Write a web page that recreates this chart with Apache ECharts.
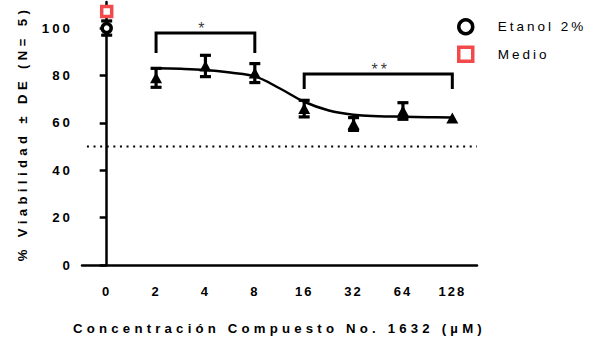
<!DOCTYPE html>
<html><head><meta charset="utf-8">
<script src="https://cdn.jsdelivr.net/npm/echarts@6/dist/echarts.min.js"></script>
<style>
html,body{margin:0;padding:0;background:#fff;}
#c{width:599px;height:345px;}
#c svg text[style*="13.2px"]{letter-spacing:4.2px;}
#c svg text[style*="13.1px"]{letter-spacing:4.4px;}
#c svg text[style*="13px"]{letter-spacing:2px;}
#c svg text[style*="13.3px"]{letter-spacing:3px;}
#c svg text[style*="13.5px"]{letter-spacing:3px;}
#c svg text[style*="16px"]{letter-spacing:3px;}
</style></head>
<body><div id="c"></div>
<script>
// Data
const categories = ['0', '2', '4', '8', '16', '32', '64', '128'];
const compMean = [null, 79, 84, 81, 66, 59.5, 65, 62];
const compSD = [null, 4, 4.5, 4, 3.5, 2.7, 3.5, 0];
const etanolMean = [100];
const etanolSD = [3];
const medioMean = [107];
const yTicks = [0, 20, 40, 60, 80, 100];
// fitted curve (x in category-index units)
const curveX = [1, 1.5, 2, 2.5, 3, 3.5, 4, 4.5, 5, 5.5, 6, 6.5, 7];
const curveY = [83.0, 82.8, 82.3, 81.2, 79.6, 74.6, 68.9, 65.2, 63.4, 62.8, 62.6, 62.4, 62.3];
const bracket1X = [1, 1, 3, 3];
const bracket1Y = [89.5, 97.9, 97.9, 89.5];
const bracket2X = [4, 4, 7, 7];
const bracket2Y = [74.3, 80.6, 80.6, 74.3];
const sigLabels = ['*', '**'];
const sigX = [1.95, 5.55];
const sigY = [97.9, 80.6];
const refLineX = [-0.4, 7.5];
const refLineY = 50;

const FONT = '"Liberation Sans", Arial, sans-serif';
const RED = '#F24A4A';

const chart = echarts.init(document.getElementById('c'), null, {renderer: 'svg'});

function errRender(params, api) {
  const x = api.value(0), m = api.value(1), s = api.value(2);
  if (!s) return null;
  const top = api.coord([x, m + s]);
  const bot = api.coord([x, m - s]);
  const hw = 5.5;
  const st = {stroke: '#000', lineWidth: 3.2};
  return {type: 'group', children: [
    {type: 'line', shape: {x1: top[0], y1: top[1], x2: bot[0], y2: bot[1]}, style: st},
    {type: 'line', shape: {x1: top[0] - hw, y1: top[1], x2: top[0] + hw, y2: top[1]}, style: st},
    {type: 'line', shape: {x1: bot[0] - hw, y1: bot[1], x2: bot[0] + hw, y2: bot[1]}, style: st}
  ]};
}

const compErr = [];
compMean.forEach((m, i) => { if (m != null) compErr.push([i, m, compSD[i]]); });
const compPts = [];
compMean.forEach((m, i) => { if (m != null) compPts.push([i, m]); });

chart.setOption({
  animation: false,
  backgroundColor: '#fff',
  grid: {left: 82, right: 122, top: 2, bottom: 80, containLabel: false},
  legend: {
    orient: 'vertical', left: 452, top: 13, itemGap: 10, itemWidth: 14, itemHeight: 14,
    textStyle: {fontFamily: FONT, fontSize: 13.5, color: '#000', padding: [0, 0, 0, 20]},
    data: [
      {name: 'Etanol 2%', icon: 'circle', itemStyle: {color: '#fff', borderColor: '#000', borderWidth: 3.5, opacity: 1}},
      {name: 'Medio', icon: 'rect', itemStyle: {color: '#fff', borderColor: RED, borderWidth: 3.5, opacity: 1}}
    ]
  },
  xAxis: [{
    type: 'category', data: categories, boundaryGap: true,
    axisLine: {lineStyle: {color: '#000', width: 2.5}},
    axisTick: {alignWithLabel: true, length: 6, lineStyle: {color: '#000', width: 2.5}},
    axisLabel: {fontFamily: FONT, fontSize: 13, fontWeight: 'bold', color: '#000', margin: 20, interval: 0},
    name: 'Concentración Compuesto No. 1632 (µM)', nameLocation: 'middle', nameGap: 57,
    nameTextStyle: {fontFamily: FONT, fontSize: 13.2, fontWeight: 'bold', color: '#000'}
  }, {
    type: 'value', min: -0.5, max: 7.5, show: false
  }],
  yAxis: {
    type: 'value', min: 0, max: 111,
    axisLine: {show: true, lineStyle: {color: '#000', width: 2.5}},
    axisTick: {show: true, length: 7, customValues: yTicks, lineStyle: {color: '#000', width: 2.5}},
    axisLabel: {fontFamily: FONT, fontSize: 13.3, fontWeight: 'bold', color: '#000', margin: 9, customValues: yTicks},
    splitLine: {show: false},
    name: '% Viabilidad ± DE (N= 5)', nameLocation: 'middle', nameGap: 53, nameRotate: 90,
    nameTextStyle: {fontFamily: FONT, fontSize: 13.1, fontWeight: 'bold', color: '#000'}
  },
  series: [
    {
      type: 'line', xAxisIndex: 1, data: refLineX.map(x => [x, refLineY]), symbol: 'none', silent: true,
      lineStyle: {color: '#000', width: 2, type: [2, 4.6]}, z: 1
    },
    {
      type: 'line', xAxisIndex: 1, data: curveX.map((x, i) => [x, curveY[i]]), symbol: 'none',
      smooth: 0.4,
      lineStyle: {color: '#000', width: 2.5}, z: 2
    },
    {
      type: 'line', xAxisIndex: 1, data: bracket1X.map((x, i) => [x, bracket1Y[i]]), symbol: 'none',
      lineStyle: {color: '#000', width: 3, cap: 'butt', join: 'miter'}, z: 2
    },
    {
      type: 'line', xAxisIndex: 1, data: bracket2X.map((x, i) => [x, bracket2Y[i]]), symbol: 'none',
      lineStyle: {color: '#000', width: 3, cap: 'butt', join: 'miter'}, z: 2
    },
    {
      type: 'scatter', xAxisIndex: 1, symbolSize: 0, z: 3,
      data: sigX.map((x, i) => ({value: [x, sigY[i]], label: {formatter: sigLabels[i]}})),
      label: {show: true, position: 'top', distance: -3, fontFamily: FONT, fontSize: 16, color: '#000'}
    },
    {
      type: 'custom', renderItem: errRender, data: compErr, z: 3,
      encode: {x: 0, y: [1]}
    },
    {
      type: 'custom', renderItem: errRender, data: [[0, etanolMean[0], etanolSD[0]]], z: 3,
      encode: {x: 0, y: [1]}
    },
    {
      type: 'scatter', name: 'Compuesto', data: compPts, symbol: 'triangle', symbolSize: [12, 11],
      itemStyle: {color: '#000', opacity: 1}, z: 4
    },
    {
      type: 'scatter', name: 'Etanol 2%', data: [[0, etanolMean[0]]], symbol: 'circle', symbolSize: 9,
      itemStyle: {color: '#fff', borderColor: '#000', borderWidth: 3.5, opacity: 1}, z: 5
    },
    {
      type: 'scatter', name: 'Medio', data: [[0, medioMean[0]]], symbol: 'rect', symbolSize: 10,
      itemStyle: {color: '#fff', borderColor: RED, borderWidth: 3.5, opacity: 1}, z: 5
    }
  ]
});
</script>
</body></html>
